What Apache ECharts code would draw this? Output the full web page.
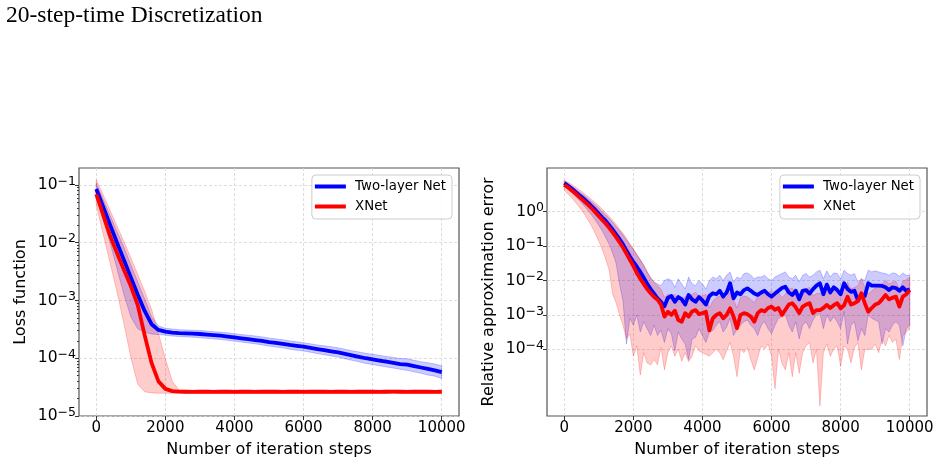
<!DOCTYPE html>
<html>
<head>
<meta charset="utf-8">
<script src="https://cdn.jsdelivr.net/npm/echarts@6/dist/echarts.min.js"></script>
<style>
  html, body { margin: 0; padding: 0; background: #fff; }
  #main { width: 940px; height: 467px; }
</style>
</head>
<body>
<div id="main"></div>
<script>
// all curve values are log10 of the plotted quantity
const lossSteps = Array.from({ length: 51 }, (_, i) => i * 200)
const errSteps = Array.from({ length: 101 }, (_, i) => i * 100)
const xTicks = [0, 2000, 4000, 6000, 8000, 10000]
const lossTicks = [-5, -4, -3, -2, -1]
const errTicks = [-4, -3, -2, -1, 0]

// left panel: loss function
const lossTwoLayer = [
  -1.07, -1.38, -1.69, -2.00, -2.30, -2.60, -2.90, -3.18, -3.41, -3.51,
  -3.54, -3.555, -3.565, -3.57, -3.575, -3.58, -3.59, -3.60, -3.61, -3.625,
  -3.64, -3.655, -3.67, -3.685, -3.70, -3.72, -3.735, -3.75, -3.77, -3.785,
  -3.80, -3.82, -3.84, -3.86, -3.88, -3.90, -3.925, -3.95, -3.975, -4.00,
  -4.02, -4.04, -4.06, -4.08, -4.10, -4.11, -4.135, -4.16, -4.185, -4.21,
  -4.24]
const lossTwoLayerHigh = [
  -0.97, -1.25, -1.53, -1.81, -2.08, -2.38, -2.68, -2.97, -3.28, -3.44,
  -3.48, -3.495, -3.505, -3.51, -3.515, -3.52, -3.53, -3.54, -3.55, -3.56,
  -3.575, -3.59, -3.60, -3.615, -3.63, -3.65, -3.665, -3.68, -3.70, -3.715,
  -3.73, -3.75, -3.77, -3.785, -3.80, -3.82, -3.845, -3.87, -3.89, -3.915,
  -3.93, -3.95, -3.97, -3.985, -4.005, -4.01, -4.035, -4.06, -4.08, -4.10,
  -4.13]
const lossTwoLayerLow = [
  -1.20, -1.60, -2.00, -2.45, -2.90, -3.28, -3.49, -3.55, -3.58, -3.59,
  -3.60, -3.615, -3.625, -3.63, -3.635, -3.645, -3.655, -3.665, -3.675, -3.69,
  -3.705, -3.72, -3.735, -3.75, -3.77, -3.79, -3.805, -3.82, -3.845, -3.86,
  -3.875, -3.895, -3.92, -3.94, -3.96, -3.98, -4.01, -4.035, -4.06, -4.09,
  -4.11, -4.13, -4.15, -4.17, -4.19, -4.21, -4.235, -4.26, -4.29, -4.31,
  -4.35]
const lossXNet = [
  -1.16, -1.52, -1.88, -2.18, -2.47, -2.75, -3.08, -3.60, -4.08, -4.40,
  -4.53, -4.57, -4.578, -4.58, -4.582, -4.579, -4.58, -4.583, -4.58, -4.578,
  -4.581, -4.58, -4.579, -4.582, -4.58, -4.578, -4.58, -4.581, -4.579, -4.58,
  -4.582, -4.58, -4.578, -4.58, -4.581, -4.579, -4.58, -4.582, -4.58, -4.578,
  -4.58, -4.581, -4.58, -4.579, -4.58, -4.582, -4.58, -4.578, -4.58, -4.581,
  -4.58]
const lossXNetHigh = [
  -0.91, -1.17, -1.44, -1.71, -1.98, -2.26, -2.55, -2.84, -3.15, -3.57,
  -4.01, -4.40, -4.55, -4.555, -4.556, -4.554, -4.555, -4.557, -4.555, -4.553,
  -4.555, -4.556, -4.554, -4.555, -4.557, -4.555, -4.554, -4.555, -4.556, -4.555,
  -4.553, -4.555, -4.556, -4.555, -4.554, -4.555, -4.557, -4.555, -4.554, -4.555,
  -4.556, -4.555, -4.553, -4.555, -4.556, -4.555, -4.554, -4.555, -4.557, -4.555,
  -4.555]
const lossXNetLow = [
  -1.35, -1.85, -2.35, -2.85, -3.40, -3.98, -4.45, -4.58, -4.60, -4.605,
  -4.605, -4.605, -4.606, -4.605, -4.604, -4.605, -4.606, -4.605, -4.605, -4.604,
  -4.605, -4.606, -4.605, -4.605, -4.604, -4.605, -4.606, -4.605, -4.605, -4.604,
  -4.605, -4.606, -4.605, -4.605, -4.604, -4.605, -4.606, -4.605, -4.605, -4.604,
  -4.605, -4.606, -4.605, -4.605, -4.604, -4.605, -4.606, -4.605, -4.605, -4.604,
  -4.605]

// right panel: relative approximation error
const errTwoLayer = [
  0.83, 0.76, 0.68, 0.60, 0.51, 0.43, 0.34, 0.25, 0.15, 0.05,
  -0.06, -0.17, -0.27, -0.39, -0.52, -0.66, -0.80, -0.95, -1.13, -1.30,
  -1.46, -1.60, -1.75, -1.92, -2.10, -2.25, -2.38, -2.52, -2.62, -2.75,
  -2.50, -2.45, -2.62, -2.48, -2.55, -2.70, -2.42, -2.55, -2.62, -2.48,
  -2.58, -2.70, -2.45, -2.37, -2.40, -2.30, -2.47, -2.35, -2.08, -2.52,
  -2.35, -2.40, -2.28, -2.23, -2.30, -2.38, -2.42, -2.35, -2.30, -2.40,
  -2.47, -2.38, -2.30, -2.22, -2.18, -2.35, -2.42, -2.30, -2.55, -2.30,
  -2.28, -2.38, -2.25, -2.15, -2.08, -2.40, -2.12, -2.35, -2.20, -2.28,
  -2.40, -2.08, -2.25, -2.33, -2.30, -2.58, -2.42, -2.45, -2.08, -2.15,
  -2.15, -2.15, -2.16, -2.20, -2.28, -2.20, -2.22, -2.30, -2.20, -2.30,
  -2.25]
const errTwoLayerHigh = [
  0.88, 0.82, 0.75, 0.68, 0.60, 0.53, 0.45, 0.37, 0.28, 0.19,
  0.10, 0.00, -0.10, -0.20, -0.31, -0.43, -0.55, -0.68, -0.82, -0.96,
  -1.10, -1.25, -1.40, -1.55, -1.75, -1.92, -2.05, -2.10, -2.15, -2.00,
  -1.95, -2.00, -2.20, -1.95, -2.10, -2.25, -1.90, -2.10, -2.15, -2.00,
  -2.10, -2.25, -2.00, -1.90, -1.95, -1.85, -2.00, -1.85, -1.75, -2.05,
  -1.90, -1.95, -1.80, -1.78, -1.85, -1.95, -1.90, -1.90, -1.85, -1.95,
  -2.00, -1.90, -1.85, -1.80, -1.75, -1.90, -1.95, -1.85, -2.05, -1.85,
  -1.80, -1.90, -1.85, -1.75, -1.70, -1.95, -1.72, -1.90, -1.78, -1.80,
  -1.95, -1.70, -1.80, -1.85, -1.80, -2.05, -1.95, -2.00, -1.70, -1.75,
  -1.72, -1.75, -1.78, -1.80, -1.85, -1.78, -1.80, -1.88, -1.78, -1.85,
  -1.85]
const errTwoLayerLow = [
  0.76, 0.68, 0.58, 0.48, 0.37, 0.26, 0.14, 0.02, -0.11, -0.25,
  -0.40, -0.56, -0.75, -0.95, -1.20, -1.50, -2.10, -2.60, -3.85, -3.10,
  -3.30, -3.00, -3.50, -3.20, -3.40, -3.60, -3.30, -3.60, -3.45, -3.80,
  -3.40, -3.55, -4.05, -3.50, -3.70, -3.85, -4.30, -3.70, -3.65, -3.40,
  -3.60, -3.80, -3.50, -3.45, -3.30, -3.20, -3.50, -3.35, -3.10, -3.60,
  -3.40, -3.30, -3.20, -3.15, -3.30, -3.40, -3.60, -3.30, -3.20, -3.40,
  -3.55, -3.30, -3.10, -3.05, -3.00, -3.30, -3.50, -3.20, -3.70, -3.30,
  -3.20, -3.40, -3.15, -3.00, -2.95, -3.40, -3.00, -3.20, -3.05, -3.20,
  -3.40, -2.90, -3.85, -3.30, -3.20, -3.75, -3.40, -3.60, -3.00, -3.10,
  -3.15, -3.20, -3.85, -3.40, -3.50, -3.30, -3.20, -3.30, -3.90, -3.40,
  -3.30]
const errXNet = [
  0.78, 0.71, 0.63, 0.55, 0.46, 0.37, 0.28, 0.19, 0.09, -0.02,
  -0.13, -0.24, -0.35, -0.47, -0.60, -0.74, -0.89, -1.04, -1.22, -1.40,
  -1.58, -1.78, -1.95, -2.10, -2.25, -2.37, -2.48, -2.56, -2.70, -3.05,
  -2.91, -3.00, -2.88, -3.15, -3.20, -2.95, -3.05, -2.90, -2.86, -2.98,
  -2.95, -2.91, -3.45, -3.10, -3.00, -2.95, -3.10, -3.00, -2.81, -3.05,
  -3.39, -3.00, -2.95, -2.98, -3.05, -3.20, -2.95, -2.86, -2.90, -2.80,
  -2.76, -2.85, -2.80, -3.00, -2.85, -2.70, -2.66, -2.78, -2.95, -2.76,
  -2.70, -2.66, -2.95, -2.86, -2.86, -2.80, -2.71, -2.80, -2.72, -2.66,
  -2.81, -2.72, -2.47, -2.70, -2.66, -2.60, -2.37, -2.66, -2.91, -2.80,
  -2.70, -2.66, -2.55, -2.42, -2.55, -2.50, -2.47, -2.76, -2.47, -2.40,
  -2.28]
const errXNetHigh = [
  0.92, 0.86, 0.80, 0.73, 0.66, 0.59, 0.51, 0.43, 0.35, 0.26,
  0.17, 0.07, -0.03, -0.14, -0.25, -0.37, -0.50, -0.63, -0.78, -0.93,
  -1.08, -1.24, -1.40, -1.57, -1.75, -1.92, -2.05, -2.15, -2.25, -2.50,
  -2.40, -2.45, -2.40, -2.60, -2.65, -2.45, -2.55, -2.40, -2.35, -2.45,
  -2.45, -2.40, -2.80, -2.60, -2.50, -2.45, -2.55, -2.50, -2.35, -2.55,
  -2.80, -2.50, -2.45, -2.48, -2.55, -2.65, -2.45, -2.40, -2.42, -2.35,
  -2.30, -2.40, -2.35, -2.50, -2.40, -2.25, -2.22, -2.32, -2.45, -2.30,
  -2.25, -2.20, -2.45, -2.38, -2.38, -2.35, -2.25, -2.35, -2.28, -2.20,
  -2.35, -2.25, -2.05, -2.25, -2.20, -2.15, -1.95, -2.20, -2.40, -2.30,
  -2.22, -2.20, -2.10, -2.00, -2.10, -2.05, -2.02, -2.25, -2.02, -1.98,
  -1.90]
const errXNetLow = [
  0.62, 0.52, 0.42, 0.30, 0.18, 0.05, -0.10, -0.26, -0.44, -0.64,
  -0.86, -1.10, -1.38, -1.70, -2.40, -2.65, -3.00, -3.30, -3.70, -3.55,
  -4.20, -3.90, -4.75, -4.10, -4.40, -4.46, -4.30, -4.45, -3.95, -4.60,
  -4.10, -3.90, -4.20, -4.00, -4.35, -4.10, -4.36, -4.20, -3.90, -4.05,
  -4.10, -4.15, -4.20, -4.10, -4.00, -4.10, -4.30, -4.05, -3.80, -4.20,
  -4.80, -4.00, -4.10, -3.95, -4.30, -4.60, -4.25, -3.90, -4.00, -3.85,
  -4.20, -5.15, -4.00, -4.40, -4.60, -4.10, -4.80, -4.10, -4.70, -4.10,
  -3.90, -3.80, -4.40, -4.00, -5.65, -4.10, -3.85, -4.20, -4.00, -3.90,
  -4.50, -3.90, -4.00, -4.40, -3.95, -3.80, -4.60, -4.00, -4.00, -4.00,
  -3.85, -4.10, -3.70, -3.90, -3.60, -3.80, -3.70, -4.30, -3.60, -3.50,
  -3.40]

const font = 'DejaVu Sans'
const BLUE = '#0000ff'
const RED = '#ff0000'

// minor ticks of the log axis on the left panel (2..9 x 10^k)
const lossMinor = []
for (let d = -5; d <= -2; d++) {
  for (let k = 2; k <= 9; k++) lossMinor.push(d + Math.log10(k))
}

function powLabel(v) {
  const k = Math.round(v)
  return '{b|10}{s|' + (k < 0 ? '\u2212' + (-k) : k) + '}'
}

const gridLine = { show: true, lineStyle: { color: '#d4d4d4', width: 0.8, type: [3, 2] } }

function xAxisFor(gi) {
  return {
    gridIndex: gi, type: 'value', min: -500, max: 10500,
    axisLine: { show: false, onZero: false },
    axisTick: { show: true, length: 4, customValues: xTicks, lineStyle: { color: '#333' } },
    axisLabel: {
      customValues: xTicks, formatter: v => String(v),
      fontFamily: font, fontSize: 15, color: '#000', margin: 5
    },
    splitLine: gridLine,
    name: 'Number of iteration steps', nameLocation: 'middle', nameGap: 26,
    nameTextStyle: { fontFamily: font, fontSize: 16, color: '#000' }
  }
}

function yAxisFor(gi, min, max, ticks, name) {
  return {
    gridIndex: gi, type: 'value', min: min, max: max, position: 'left',
    axisLine: { show: false, onZero: false },
    axisTick: { show: true, length: 4, customValues: ticks, lineStyle: { color: '#333' } },
    axisLabel: {
      customValues: ticks, margin: 3, formatter: powLabel,
      rich: {
        b: { fontFamily: font, fontSize: 15.5, color: '#000', lineHeight: 20, verticalAlign: 'middle' },
        s: { fontFamily: font, fontSize: 12.5, color: '#000', lineHeight: 12, verticalAlign: 'top' }
      }
    },
    splitLine: gridLine,
    name: name, nameLocation: 'middle', nameGap: 50,
    nameTextStyle: { fontFamily: font, fontSize: 16, color: '#000' }
  }
}

// shaded band between low and high, drawn as one polygon through the axes
function bandSeries(xi, yi, steps, low, high, rgb) {
  return {
    type: 'custom', xAxisIndex: xi, yAxisIndex: yi, silent: true, clip: true, z: 1,
    data: steps.map((s, i) => [s, low[i], high[i]]),
    encode: { x: 0, y: [1, 2] },
    renderItem: function (params, api) {
      if (params.dataIndex !== 0) return null
      const top = steps.map((s, i) => api.coord([s, high[i]]))
      const bottom = steps.map((s, i) => api.coord([s, low[i]])).reverse()
      return {
        type: 'polygon',
        shape: { points: top.concat(bottom) },
        style: {
          fill: 'rgba(' + rgb + ',0.2)',
          stroke: 'rgba(' + rgb + ',0.22)', lineWidth: 1
        }
      }
    }
  }
}

function lineSeries(name, xi, yi, steps, vals, color) {
  return {
    name: name, type: 'line', xAxisIndex: xi, yAxisIndex: yi, symbol: 'none', color: color,
    lineStyle: { color: color, width: 3.8, join: 'round' }, z: 3,
    data: steps.map((s, i) => [s, vals[i]])
  }
}

function legendFor(right) {
  return {
    data: ['Two-layer Net', 'XNet'], orient: 'vertical', right: right, top: 175,
    icon: 'rect', itemWidth: 31, itemHeight: 4, itemGap: 7,
    formatter: n => ' ' + n,
    textStyle: { fontFamily: font, fontSize: 13.3, color: '#000' },
    padding: [5, 6, 6, 3], borderColor: '#cccccc', borderWidth: 1, borderRadius: 4,
    backgroundColor: 'rgba(255,255,255,0.85)'
  }
}

const chart = echarts.init(document.getElementById('main'), null, { renderer: 'canvas' })

chart.setOption({
  animation: false,
  backgroundColor: '#fff',
  title: {
    text: '20-step-time Discretization', left: 6, top: 4, padding: 0,
    textStyle: { fontFamily: 'Liberation Serif', fontSize: 23.5, fontWeight: 'normal', color: '#000' }
  },
  grid: [
    { left: 79, top: 168, width: 380, height: 248, show: true, borderColor: '#555', borderWidth: 1.2 },
    { left: 547, top: 168, width: 380, height: 248, show: true, borderColor: '#555', borderWidth: 1.2 }
  ],
  legend: [legendFor(488), legendFor(20)],
  xAxis: [xAxisFor(0), xAxisFor(1)],
  yAxis: [
    yAxisFor(0, -5, -0.706, lossTicks, 'Loss function'),
    {
      gridIndex: 0, type: 'value', min: -5, max: -0.706, position: 'left',
      axisLine: { show: false, onZero: false },
      axisTick: { show: true, length: 2, customValues: lossMinor, lineStyle: { color: '#333' } },
      axisLabel: { show: false }, splitLine: { show: false }
    },
    yAxisFor(1, -5.94, 1.27, errTicks, 'Relative approximation error')
  ],
  series: [
    bandSeries(0, 0, lossSteps, lossTwoLayerLow, lossTwoLayerHigh, '0,0,255'),
    bandSeries(0, 0, lossSteps, lossXNetLow, lossXNetHigh, '255,0,0'),
    lineSeries('Two-layer Net', 0, 0, lossSteps, lossTwoLayer, BLUE),
    lineSeries('XNet', 0, 0, lossSteps, lossXNet, RED),
    bandSeries(1, 2, errSteps, errTwoLayerLow, errTwoLayerHigh, '0,0,255'),
    bandSeries(1, 2, errSteps, errXNetLow, errXNetHigh, '255,0,0'),
    lineSeries('Two-layer Net', 1, 2, errSteps, errTwoLayer, BLUE),
    lineSeries('XNet', 1, 2, errSteps, errXNet, RED)
  ]
})
</script>
</body>
</html>
